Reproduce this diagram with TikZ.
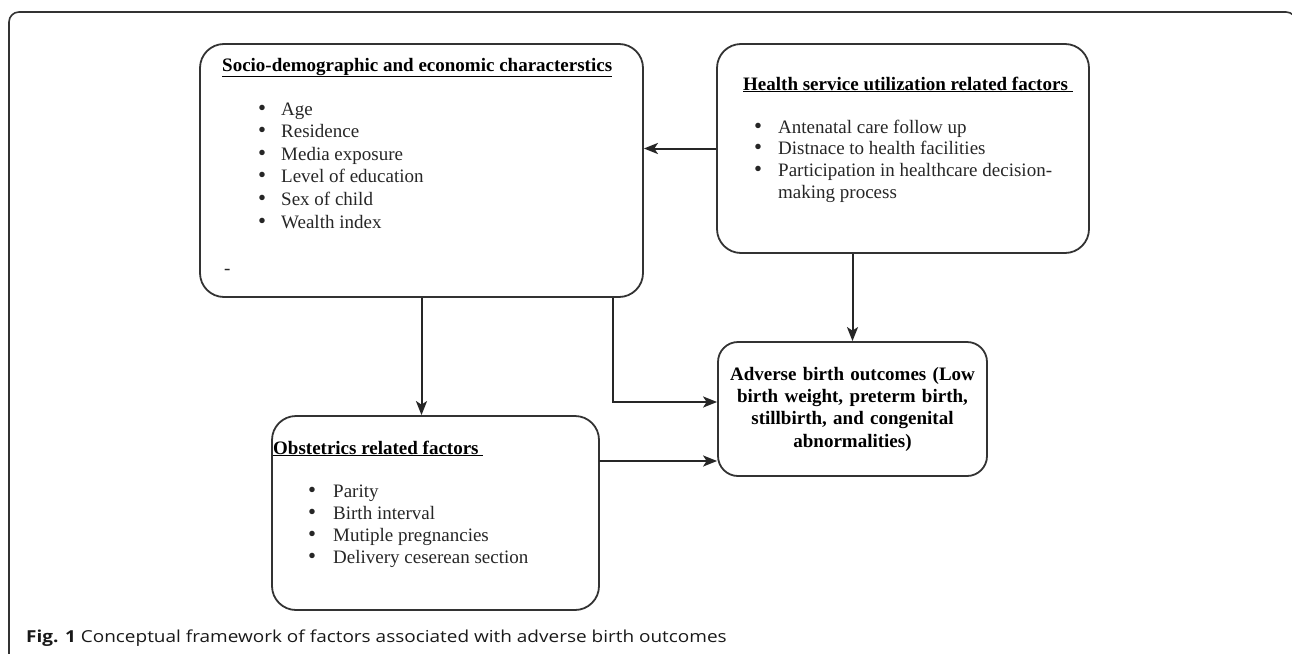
\documentclass[tikz,border=0pt]{standalone}
\usepackage{fontspec}
\setmainfont{Liberation Serif}
\newfontfamily\captionFont[FakeStretch=1.15]{Open Sans}
\usetikzlibrary{arrows.meta}

\tikzset{
  box/.style={draw=black!80, line width=1.8pt, rounded corners=24pt, inner sep=0pt},
  item/.style={anchor=base west, inner sep=0pt, text=black!85, font=\fontsize{19}{22}\selectfont},
  heading/.style={item, text=black, font=\fontsize{19}{22}\selectfont\bfseries},
  link/.style={draw=black!85, line width=2pt, -{Stealth[length=14pt,width=11pt,inset=3.5pt]}},
}

\newcommand\itemDot{\scalebox{1.2}{\textbullet}}

\begin{document}
\begin{tikzpicture}[x=1pt,y=-1pt]
    \useasboundingbox (0,0) rectangle (1292,653);

    % outer frame
    \draw[black!80, line width=1.6pt, rounded corners=10pt] (9,670) -- (9,12) -- (1296,12) -- (1296,670);

    % boxes
    \node[box, minimum width=443pt, minimum height=253pt] (socio) at (421.5,170.5) {};
    \node[box, minimum width=372pt, minimum height=209pt] (health) at (903,148.5) {};
    \node[box, minimum width=327pt, minimum height=194pt] (obst) at (435.5,513) {};
    \node[box, rounded corners=20pt, minimum width=269pt, minimum height=134pt,
          align=center, text width=255pt, font=\fontsize{19}{22.3}\selectfont\bfseries] (adverse) at (852.5,409)
          {Adverse birth outcomes (Low\\ birth weight, preterm birth,\\ stillbirth, and congenital\\ abnormalities)};

    % box headings
    \node[heading] (socioTitle) at (222,71) {\underline{Socio-demographic and economic characterstics}};
    \node[heading] (healthTitle) at (743,90) {\underline{Health service utilization related factors\ }};
    \node[heading] (obstTitle) at (273,454) {\underline{Obstetrics related factors\ }};

    % socio-demographic items
    \foreach \i/\txt in {0/Age,1/Residence,2/Media exposure,3/Level of education,4/Sex of child,5/Wealth index} {
      \node[item] (socioDot\i) at (258,115+\i*22.6) {\itemDot};
      \node[item] (socioItem\i) at (281,115+\i*22.6) {\txt};
    }
    \node[item] (socioDash) at (224,274) {-};

    % health service items
    \foreach \i/\txt in {0/Antenatal care follow up,1/Distnace to health facilities,2/Participation in healthcare decision-} {
      \node[item] (healthDot\i) at (754,133+\i*21.7) {\itemDot};
      \node[item] (healthItem\i) at (778,133+\i*21.7) {\txt};
    }
    \node[item] (healthItem3) at (778,198) {making process};

    % obstetric items
    \foreach \i/\txt in {0/Parity,1/Birth interval,2/Mutiple pregnancies,3/Delivery ceserean section} {
      \node[item] (obstDot\i) at (308,497+\i*22) {\itemDot};
      \node[item] (obstItem\i) at (333,497+\i*22) {\txt};
    }

    % arrows
    \coordinate (bend) at (613,402);
    \coordinate (obstOut) at (599,461);
    \draw[link] (health.west) -- (health.west -| socio.east);
    \draw[link] (socio.south) -- (socio.south |- obst.north);
    \draw[link] (bend |- socio.south) -- (bend) -- (bend -| adverse.west);
    \draw[link] (obstOut) -- (obstOut -| adverse.west);
    \draw[link] (adverse.north |- health.south) -- (adverse.north);

    % caption
    \node[anchor=base west, inner sep=0pt, text=black!90, font=\captionFont\fontsize{16.5}{19}\selectfont] (caption) at (26,642)
      {\textbf{Fig. 1} Conceptual framework of factors associated with adverse birth outcomes};
\end{tikzpicture}
\end{document}
